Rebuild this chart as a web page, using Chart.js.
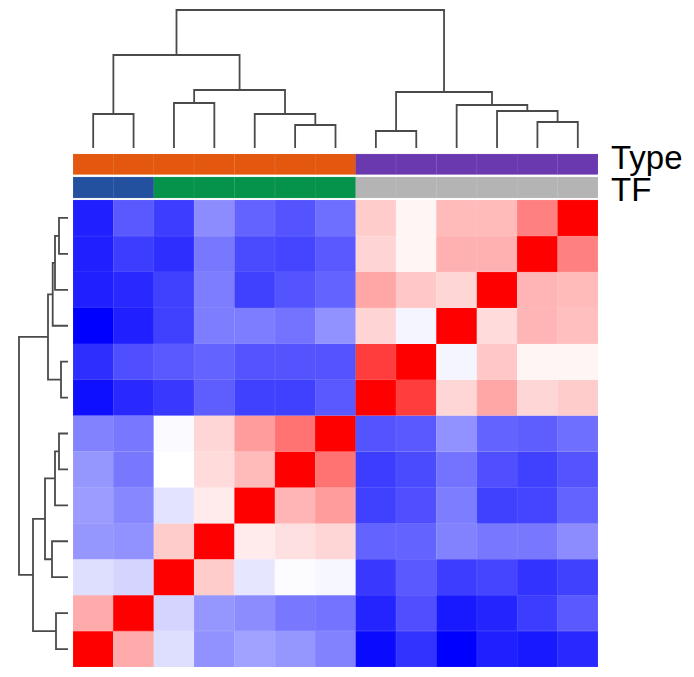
<!DOCTYPE html>
<html>
<head>
<meta charset="utf-8">
<script src="https://cdn.jsdelivr.net/npm/chart.js@4/dist/chart.umd.min.js"></script>
<style>
  html, body { margin:0; padding:0; background:#fff; width:694px; height:677px; overflow:hidden; }
  body { position:relative; }
  canvas { position:absolute; display:block; }
  .lbl { position:absolute; font-family:"Liberation Sans", Arial, sans-serif; font-size:33px; line-height:33px; color:#000; white-space:nowrap; }
</style>
</head>
<body>
<canvas id="topDendro" width="525" height="150" style="left:73px;top:0px;"></canvas>
<canvas id="leftDendro" width="70" height="467" style="left:0px;top:200px;"></canvas>
<canvas id="heat" width="525" height="514" style="left:73px;top:153px;"></canvas>
<div class="lbl" id="lblType" style="left:611px;top:141px;">Type</div>
<div class="lbl" id="lblTF" style="left:611px;top:173px;">TF</div>
<script>
// ---------------- DATA ----------------
const colLabels = ['S1','S2','S3','S4','S5','S6','S7','S8','S9','S10','S11','S12','S13'];
const rowLabels = ['S13','S12','S11','S10','S9','S8','S7','S6','S5','S4','S3','S2','S1'];
const typeCats = ['A','A','A','A','A','A','A','B','B','B','B','B','B'];
const tfCats   = ['TF1','TF1','TF2','TF2','TF2','TF2','TF2','none','none','none','none','none','none'];
const annotationNames = ['Type','TF'];

// correlation values, one array per heatmap row (top to bottom), columns left to right
const row01 = [-0.88,-0.65,-0.76,-0.45,-0.61,-0.67,-0.57, 0.20, 0.04, 0.27, 0.27, 0.50, 1.00];
const row02 = [-0.88,-0.76,-0.82,-0.53,-0.71,-0.73,-0.65, 0.17, 0.04, 0.31, 0.31, 1.00, 0.50];
const row03 = [-0.88,-0.84,-0.75,-0.51,-0.75,-0.67,-0.61, 0.35, 0.22, 0.16, 1.00, 0.29, 0.27];
const row04 = [-1.00,-0.88,-0.75,-0.51,-0.51,-0.55,-0.43, 0.17,-0.04, 1.00, 0.14, 0.29, 0.25];
const row05 = [-0.82,-0.69,-0.65,-0.61,-0.67,-0.67,-0.67, 0.76, 1.00,-0.04, 0.22, 0.04, 0.04];
const row06 = [-0.94,-0.84,-0.78,-0.63,-0.75,-0.75,-0.65, 1.00, 0.76, 0.16, 0.35, 0.16, 0.20];
const row07 = [-0.49,-0.53,-0.02, 0.16, 0.39, 0.55, 1.00,-0.67,-0.65,-0.43,-0.61,-0.63,-0.57];
const row08 = [-0.41,-0.53, 0.00, 0.14, 0.27, 1.00, 0.55,-0.76,-0.71,-0.55,-0.69,-0.75,-0.67];
const row09 = [-0.39,-0.47,-0.11, 0.08, 1.00, 0.29, 0.39,-0.75,-0.69,-0.51,-0.75,-0.73,-0.61];
const row10 = [-0.41,-0.43, 0.20, 1.00, 0.08, 0.12, 0.16,-0.61,-0.61,-0.49,-0.53,-0.53,-0.45];
const row11 = [-0.13,-0.17, 1.00, 0.20,-0.10,-0.01,-0.03,-0.78,-0.65,-0.76,-0.73,-0.80,-0.75];
const row12 = [ 0.33, 1.00,-0.17,-0.41,-0.45,-0.53,-0.55,-0.86,-0.69,-0.90,-0.86,-0.76,-0.65];
const row13 = [ 1.00, 0.33,-0.13,-0.43,-0.37,-0.41,-0.49,-0.96,-0.80,-1.00,-0.88,-0.90,-0.84];

// dendrogram merges: [childA, childB, height]; leaves are 0..12, new clusters numbered from 13
const colMerges = [
  [0,1,1.70],[2,3,2.25],[5,6,1.15],[4,15,1.70],[14,16,2.90],[13,17,4.65],
  [7,8,0.85],[11,12,1.30],[10,20,1.85],[9,21,2.15],[19,22,2.80],[18,23,6.90]
];
const rowMerges = [
  [0,1,0.90],[13,2,1.30],[14,3,1.53],[4,5,0.70],[15,16,2.00],
  [6,7,0.90],[18,8,1.30],[9,10,1.60],[19,20,2.30],[11,12,1.20],[21,22,3.50],[17,23,4.90]
];

// ---------------- STYLE ----------------
const typeColors = { A:'#E3570F', B:'#6A38AF' };
const tfColors = { TF1:'#23509F', TF2:'#05924A', none:'#B4B4B4' };
const lineColor = '#4a4a4a';
const borderTint = 0.14;   // cell outline = fill blended with this much white

// ---------------- BUILD ----------------
const matrix = [row01,row02,row03,row04,row05,row06,row07,row08,row09,row10,row11,row12,row13];
const nCols = colLabels.length, nRows = rowLabels.length;

function corrRGB(v){
  if (v >= 0){ const c = Math.round(255*(1-v)); return [255,c,c]; }
  const c = Math.round(255*(1+v)); return [c,c,255];
}
const rgbStr = (a) => `rgb(${a[0]},${a[1]},${a[2]})`;
const tint = (a) => rgbStr(a.map(x => Math.round(x + (255-x)*borderTint)));
function hexRGB(h){ return [1,3,5].map(i => parseInt(h.slice(i,i+2),16)); }

// layout in row units (annotation strips above the matrix)
const rowPx = 467/13;
const yMinUnits = -(200-153)/rowPx;
const typeBand = [(154-200)/rowPx, (174.5-200)/rowPx];
const tfBand = [(177-200)/rowPx, (198-200)/rowPx];

const barCommon = { categoryPercentage:1, barPercentage:1, borderSkipped:false, borderWidth:0.6 };
const datasets = [];
datasets.push(Object.assign({ label:annotationNames[0], data: typeCats.map(()=>typeBand.slice()),
  backgroundColor: typeCats.map(t=>typeColors[t]), borderColor: typeCats.map(t=>tint(hexRGB(typeColors[t]))) }, barCommon));
datasets.push(Object.assign({ label:annotationNames[1], data: tfCats.map(()=>tfBand.slice()),
  backgroundColor: tfCats.map(t=>tfColors[t]), borderColor: tfCats.map(t=>tint(hexRGB(tfColors[t]))) }, barCommon));
matrix.forEach((vals, r) => {
  datasets.push(Object.assign({ label: rowLabels[r], data: vals.map(()=>[r, r+1]),
    backgroundColor: vals.map(v=>rgbStr(corrRGB(v))), borderColor: vals.map(v=>tint(corrRGB(v))) }, barCommon));
});

new Chart(document.getElementById('heat'), {
  type:'bar',
  data:{ labels: colLabels, datasets },
  options:{
    responsive:false, animation:false, devicePixelRatio:1,
    layout:{ padding:0 },
    plugins:{ legend:{display:false}, tooltip:{enabled:false} },
    scales:{
      x:{ display:false, stacked:true, offset:true },
      y:{ display:false, stacked:false, min:yMinUnits, max:nRows, reverse:true }
    }
  }
});

function dendroSegments(merges, nLeaves){
  const pos = [], hgt = [], segs = [];
  for (let i=0;i<nLeaves;i++){ pos[i]=i+0.5; hgt[i]=0; }
  merges.forEach(([a,b,h],k)=>{
    const id = nLeaves+k;
    pos[id] = (pos[a]+pos[b])/2; hgt[id] = h;
    segs.push([[pos[a],hgt[a]],[pos[a],h],[pos[b],h],[pos[b],hgt[b]]]);
  });
  return segs;
}
const lineDs = (pts) => ({ data:pts, showLine:true, borderColor:lineColor, borderWidth:1.8, pointRadius:0, fill:false, tension:0, clip:false });

new Chart(document.getElementById('topDendro'), {
  type:'scatter',
  data:{ datasets: dendroSegments(colMerges, nCols).map(s => lineDs(s.map(([p,h])=>({x:p,y:h})))) },
  options:{
    responsive:false, animation:false, devicePixelRatio:1,
    layout:{ padding:0 },
    plugins:{ legend:{display:false}, tooltip:{enabled:false} },
    scales:{
      x:{ type:'linear', display:false, min:0, max:nCols },
      y:{ type:'linear', display:false, min:-0.1, max:7.4 }
    }
  }
});

new Chart(document.getElementById('leftDendro'), {
  type:'scatter',
  data:{ datasets: dendroSegments(rowMerges, nRows).map(s => lineDs(s.map(([p,h])=>({x:h,y:p})))) },
  options:{
    responsive:false, animation:false, devicePixelRatio:1,
    layout:{ padding:0 },
    plugins:{ legend:{display:false}, tooltip:{enabled:false} },
    scales:{
      x:{ type:'linear', display:false, min:-0.2, max:6.8, reverse:true },
      y:{ type:'linear', display:false, min:0, max:nRows, reverse:true }
    }
  }
});
</script>
</body>
</html>
